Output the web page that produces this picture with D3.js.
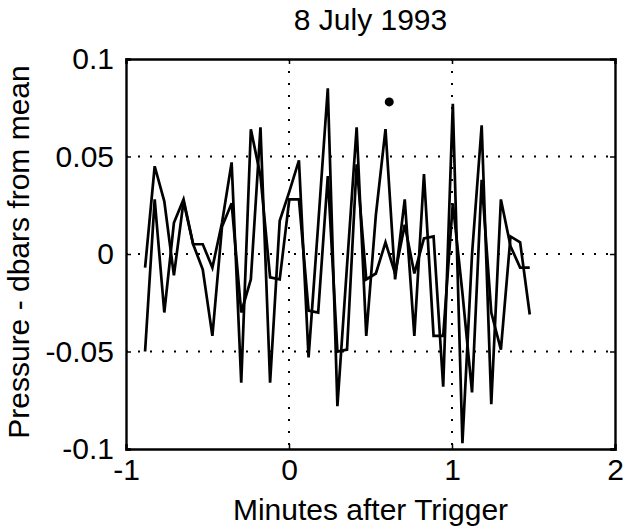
<!DOCTYPE html>
<html>
<head>
<meta charset="utf-8">
<script src="https://cdn.jsdelivr.net/npm/d3@7"></script>
<style>
  html, body { margin: 0; padding: 0; background: #fff; }
  svg { display: block; }
  text { font-family: "Liberation Sans", Arial, Helvetica, sans-serif; fill: #000; }
</style>
</head>
<body>
<svg id="chart" width="632" height="531"></svg>
<script>
// ---- data ----
const title = "8 July 1993";
const xLabel = "Minutes after Trigger";
const yLabel = "Pressure - dbars from mean";
const xTicks = [-1, 0, 1, 2];
const xTickLabels = ["-1", "0", "1", "2"];
const yTicks = [-0.1, -0.05, 0, 0.05, 0.1];
const yTickLabels = ["-0.1", "-0.05", "0", "0.05", "0.1"];
const startMinute = -0.883;
const stepMinute = 0.059;
const seriesA = [-0.007, 0.045, 0.027, -0.011, 0.027, 0.005, 0.005, -0.007, 0.016, 0.047,
                 -0.066, 0.064, 0.040, -0.012, -0.013, 0.028, 0.028, -0.029, -0.030, 0.040,
                 -0.050, -0.049, 0.046, -0.013, -0.010, 0.006, -0.010, 0.015, -0.010, 0.008,
                 0.009, -0.068, 0.077, -0.097, 0.000, 0.066, -0.077, 0.028, 0.004, -0.007, -0.007];
const seriesB = [-0.050, 0.028, -0.030, 0.016, 0.028, 0.005, -0.008, -0.042, 0.014, 0.026,
                 -0.030, -0.013, 0.065, -0.066, 0.017, 0.032, 0.048, -0.053, 0.015, 0.085,
                 -0.078, -0.006, 0.065, -0.042, 0.020, 0.064, -0.013, 0.028, -0.042, 0.041,
                 -0.042, -0.042, 0.026, -0.020, -0.071, 0.038, -0.030, -0.049, 0.009, 0.006, -0.031];
const markerPoint = [{x: 0.615, y: 0.078}];

// ---- layout ----
const svg = d3.select("#chart");
const mLeft = 126, mRight = 615, mTop = 59, mBottom = 449;
const x = d3.scaleLinear().domain([-1, 2]).range([mLeft, mRight]);
const y = d3.scaleLinear().domain([-0.1, 0.1]).range([mBottom, mTop]);

const toPoints = arr => arr.map((v, i) => ({x: startMinute + i * stepMinute, y: v}));

// grid (dotted)
const grid = svg.append("g");
grid.selectAll("line.gx").data(xTicks.filter(t => t > -1 && t < 2)).join("line")
  .attr("x1", d => x(d)).attr("x2", d => x(d)).attr("y1", mTop).attr("y2", mBottom)
  .attr("stroke", "#000").attr("stroke-width", 2).attr("stroke-dasharray", "2,10");
grid.selectAll("line.gy").data(yTicks.filter(t => t > -0.1 && t < 0.1)).join("line")
  .attr("x1", mLeft).attr("x2", mRight).attr("y1", d => y(d)).attr("y2", d => y(d))
  .attr("stroke", "#000").attr("stroke-width", 2).attr("stroke-dasharray", "2,10");

// data lines
const line = d3.line().x(d => x(d.x)).y(d => y(d.y));
[seriesA, seriesB].forEach(s => {
  svg.append("path").datum(toPoints(s))
    .attr("d", line).attr("fill", "none").attr("stroke", "#000")
    .attr("stroke-width", 2.7).attr("stroke-linejoin", "miter").attr("stroke-miterlimit", 4);
});

svg.selectAll("circle.mk").data(markerPoint).join("circle")
  .attr("cx", d => x(d.x)).attr("cy", d => y(d.y)).attr("r", 4.5).attr("fill", "#000");

// axes (ticks inside, matlab-like)
const tickLen = 5;
const axB = d3.axisBottom(x).tickValues(xTicks).tickSize(-tickLen).tickPadding(10)
  .tickFormat((d, i) => xTickLabels[i]);
const axT = d3.axisTop(x).tickValues(xTicks).tickSize(-tickLen).tickFormat("");
const axL = d3.axisLeft(y).tickValues(yTicks).tickSize(-tickLen).tickPadding(12)
  .tickFormat((d, i) => yTickLabels[i]);
const axR = d3.axisRight(y).tickValues(yTicks).tickSize(-tickLen).tickFormat("");

function style(g) {
  g.select(".domain").attr("stroke", "#000").attr("stroke-width", 2.4);
  g.selectAll(".tick line").attr("stroke", "#000").attr("stroke-width", 1.5);
  g.selectAll(".tick text").attr("font-size", 30).attr("font-family", '"Liberation Sans", Arial, sans-serif').attr("fill", "#000");
}
svg.append("g").attr("transform", `translate(0,${mBottom})`).call(axB).call(style);
svg.append("g").attr("transform", `translate(0,${mTop})`).call(axT).call(style);
svg.append("g").attr("transform", `translate(${mLeft},0)`).call(axL).call(style);
svg.append("g").attr("transform", `translate(${mRight},0)`).call(axR).call(style);

// labels
svg.append("text").attr("x", (mLeft + mRight) / 2).attr("y", 30)
  .attr("text-anchor", "middle").attr("font-size", 30).text(title);
svg.append("text").attr("x", (mLeft + mRight) / 2).attr("y", 520)
  .attr("text-anchor", "middle").attr("font-size", 30).text(xLabel);
svg.append("text").attr("transform", `translate(29,${(mTop + mBottom) / 2 - 2}) rotate(-90)`)
  .attr("text-anchor", "middle").attr("font-size", 30).text(yLabel);
</script>
</body>
</html>
